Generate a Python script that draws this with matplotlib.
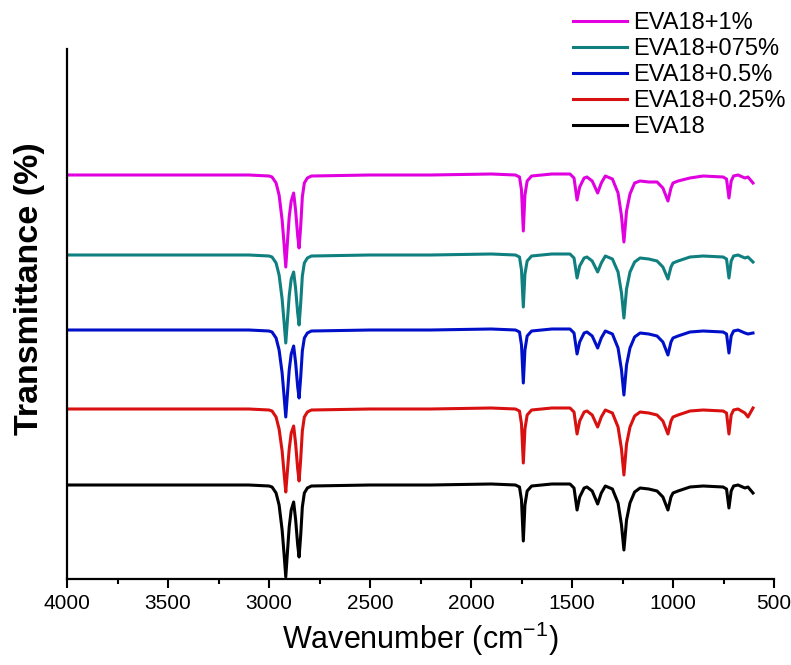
import matplotlib
matplotlib.use("Agg")
import matplotlib.pyplot as plt
import numpy as np

plt.rcParams["font.family"] = ["Liberation Sans", "DejaVu Sans"]

# wavenumbers (cm-1) of the points
wavenumber = [4000, 3700, 3400, 3100, 3000, 2985, 2965, 2950, 2935, 2925,
              2917, 2908, 2900, 2890, 2878, 2868, 2858, 2851, 2843, 2835,
              2825, 2810, 2790, 2500, 2200, 1900, 1780, 1760, 1750, 1741,
              1733, 1722, 1700, 1600, 1510, 1490, 1475, 1462, 1440, 1426,
              1400, 1373, 1355, 1335, 1300, 1272, 1255, 1243, 1230, 1213,
              1190, 1163, 1120, 1079, 1050, 1025, 1010, 1000, 975, 916,
              851, 752, 735, 723, 712, 700, 678, 644, 629, 604]

# dip below each baseline (a.u.)
eva18 = [0, 0, 0, 0, 1, 2, 8, 20, 45, 70,
         92, 65, 42, 25, 17, 35, 60, 72, 50, 22,
         8, 3, 1, 0, 0, -1, 0, 2, 15, 56,
         20, 6, 1, -1, -1, 3, 25, 12, 3, 2,
         6, 19, 8, 1, 4, 18, 40, 65, 35, 18,
         7, 3, 4, 6, 12, 25, 12, 8, 6, 2,
         1, 2, 4, 23, 6, 1, 0, 3, 2, 8]
eva18_025 = [0, 0, 0, 0, 1, 2, 8, 20, 42, 65,
             83, 60, 40, 24, 17, 35, 60, 72, 50, 22,
             8, 3, 1, 0, 0, -1, 0, 2, 15, 54,
             20, 6, 1, -1, -1, 3, 25, 12, 3, 2,
             6, 18, 8, 1, 4, 18, 40, 66, 35, 18,
             7, 3, 4, 6, 12, 25, 12, 8, 6, 2,
             1, 2, 4, 25, 6, 1, 0, 4, 8, -1]
eva18_05 = [0, 0, 0, 0, 1, 2, 8, 20, 43, 67,
            87, 62, 40, 24, 16, 33, 57, 68, 47, 21,
            8, 3, 1, 0, 0, -1, 0, 2, 15, 53,
            20, 6, 1, -1, -1, 3, 24, 12, 3, 2,
            6, 18, 8, 1, 4, 18, 40, 65, 35, 18,
            7, 3, 4, 6, 12, 25, 12, 8, 6, 2,
            1, 2, 4, 23, 6, 1, 0, 3, 4, 3]
eva18_075 = [0, 0, 0, 0, 1, 2, 8, 20, 44, 68,
             88, 63, 41, 24, 17, 34, 58, 70, 48, 21,
             8, 3, 1, 0, 0, -1, 0, 2, 15, 52,
             19, 6, 1, -1, -1, 3, 23, 11, 3, 2,
             6, 17, 8, 1, 4, 17, 38, 63, 34, 17,
             7, 3, 4, 6, 12, 24, 12, 8, 6, 2,
             1, 2, 4, 23, 6, 1, 0, 3, 2, 7]
eva18_1 = [0, 0, 0, 0, 1, 2, 8, 20, 45, 70,
           92, 65, 42, 26, 18, 36, 61, 73, 51, 22,
           8, 3, 1, 0, 0, -1, 0, 2, 15, 56,
           20, 6, 1, -1, -1, 3, 25, 12, 3, 2,
           6, 18, 8, 1, 4, 18, 41, 67, 36, 19,
           8, 6, 7, 7, 13, 26, 13, 8, 6, 3,
           1, 2, 4, 23, 6, 1, 0, 3, 2, 8]

labels = ["EVA18", "EVA18+0.25%", "EVA18+0.5%", "EVA18+075%", "EVA18+1%"]
spectra = [eva18, eva18_025, eva18_05, eva18_075, eva18_1]
baselines = [94, 170, 249, 324, 404]
colors = ["#000000", "#d81010", "#0010c8", "#0f7f7f", "#e000e0"]

fig = plt.figure(figsize=(7.91, 6.65), dpi=100)
ax = fig.add_axes([67 / 791, 86 / 665, 707 / 791, 530 / 665])

lines = []
for lab, dip, base, c in zip(labels, spectra, baselines, colors):
    y = base - np.array(dip)
    ln, = ax.plot(wavenumber, y, color=c, lw=2.2, label=lab)
    lines.append(ln)

ax.set_xlim(4000, 500)
ax.set_ylim(0, 530)
ax.set_xticks(np.arange(4000, 499, -500))
ax.set_xticks(np.arange(3750, 500, -500), minor=True)
ax.set_yticks([])
for s in ["top", "right"]:
    ax.spines[s].set_visible(False)
for s in ["left", "bottom"]:
    ax.spines[s].set_linewidth(1.6)
ax.tick_params(axis="x", which="major", length=6.5, width=1.5, labelsize=15, pad=4)
ax.tick_params(axis="x", which="minor", length=3.6, width=1.5)

ax.set_xlabel("Wavenumber (cm$^{\\mathregular{-1}}$)", fontsize=22, labelpad=5)
ax.set_ylabel("Transmittance (%)", fontsize=24.5, fontweight="bold")
ax.yaxis.set_label_coords(-0.031, 0.547)

fig.legend(lines[::-1], labels[::-1], loc="upper left",
           bbox_to_anchor=(573 / 791, 0.982), frameon=False, fontsize=17,
           borderpad=0, borderaxespad=0, handlelength=2.3, handletextpad=0.25,
           labelspacing=0.17)

fig.savefig("out.png", dpi=100)
